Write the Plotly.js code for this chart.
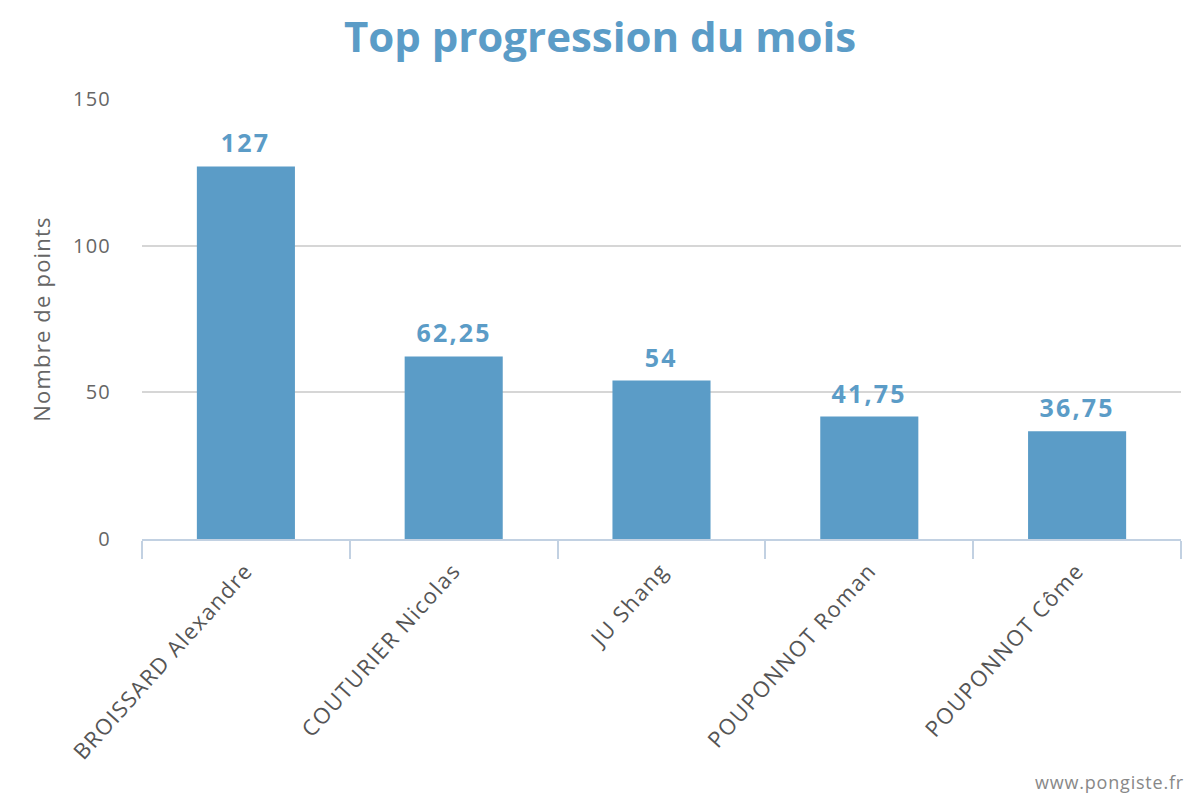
<!DOCTYPE html>
<html>
<head>
<meta charset="utf-8">
<script src="https://cdn.plot.ly/plotly-3.0.1.min.js"></script>
<style>
html,body{margin:0;padding:0;background:#fff}
#chart{width:1200px;height:800px}
#chart .xtick text{letter-spacing:1.4px}
#chart .ytick text{letter-spacing:1.2px}
#chart .ytitle{letter-spacing:1.2px}
#chart .annotation-text-g text{letter-spacing:2.2px}
#chart .annotation[data-index="5"] text{letter-spacing:0.8px}
</style>
</head>
<body>
<div id="chart"></div>
<script>
const categories = ["BROISSARD Alexandre", "COUTURIER Nicolas", "JU Shang", "POUPONNOT Roman", "POUPONNOT Côme"];
const points = [127, 62.25, 54, 41.75, 36.75];
const labels = points.map(v => String(v).replace('.', ','));

const barColor = '#5b9cc7';
const fontFam = '"Open Sans", "DejaVu Sans", sans-serif';

const valueAnnotations = categories.map((c, i) => ({
  x: c, y: points[i], xref: 'x', yref: 'y',
  text: labels[i], showarrow: false,
  xanchor: 'center', yanchor: 'bottom', yshift: 5,
  font: {family: fontFam, size: 25, color: barColor, weight: 'bold'}
}));

Plotly.newPlot('chart', [{
  type: 'bar',
  x: categories,
  y: points,
  marker: {color: barColor},
  hoverinfo: 'x+y'
}], {
  width: 1200, height: 800,
  margin: {l: 142, r: 19, t: 99, b: 261},
  paper_bgcolor: '#fff', plot_bgcolor: '#fff',
  bargap: 0.528,
  font: {family: fontFam, color: '#666'},
  title: {text: '<b>Top progression du mois</b>', x: 0.5, xanchor: 'center', y: 0.953, yanchor: 'middle',
          font: {family: fontFam, size: 42, color: barColor}},
  xaxis: {
    showline: true, linecolor: '#c2d1e2', linewidth: 2,
    ticks: 'outside', ticklen: 18, tickcolor: '#c2d1e2', tickwidth: 2,
    tickson: 'boundaries', tickangle: -48, ticklabelstandoff: 8,
    tickfont: {family: fontFam, size: 22, color: '#555'},
    showgrid: false
  },
  yaxis: {
    range: [0, 150], dtick: 50, showgrid: true, gridcolor: '#d6d6d6', gridwidth: 1.5,
    zeroline: false, ticks: '', ticklabelstandoff: 30,
    tickfont: {family: fontFam, size: 20, color: '#666'},
    title: {text: 'Nombre de points', standoff: 19, font: {family: fontFam, size: 22, color: '#666'}}
  },
  annotations: valueAnnotations.concat([{
    text: 'www.pongiste.fr', xref: 'paper', yref: 'paper', x: 1.0, y: -0.553, xanchor: 'right', yanchor: 'middle',
    showarrow: false, font: {family: fontFam, size: 18, color: '#888'}
  }]),
  showlegend: false
}, {displayModeBar: false});
</script>
</body>
</html>
